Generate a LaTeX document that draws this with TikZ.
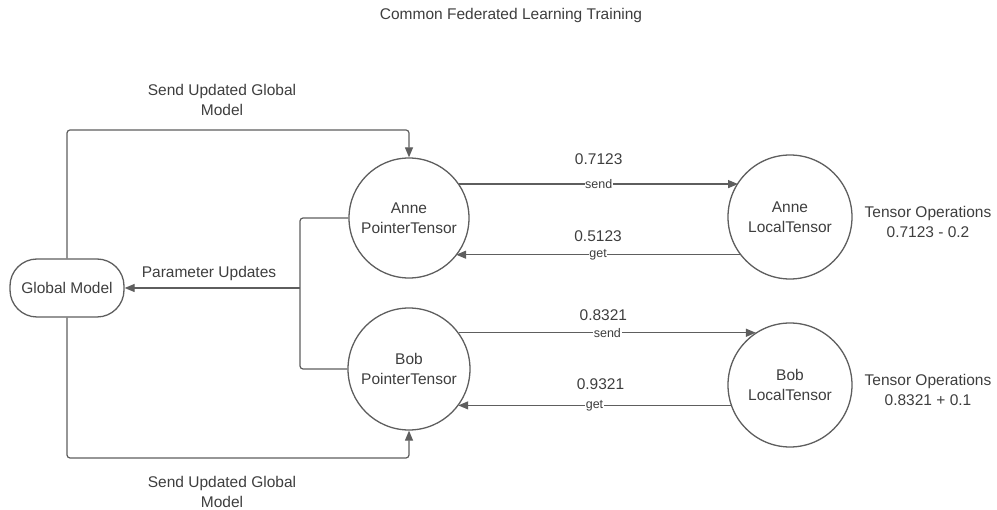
\documentclass[tikz,border=0pt]{standalone}
\usepackage{fontspec}
\setmainfont{Liberation Sans}
\usetikzlibrary{arrows.meta}
\definecolor{linegray}{HTML}{5E5E5E}
\definecolor{textgray}{HTML}{3E3E3E}
\tikzset{
  base/.style={text=textgray, font=\fontsize{15.5}{20}\selectfont},
  small/.style={text=textgray, font=\fontsize{12.5}{14}\selectfont},
  tensor/.style={base, circle, draw=linegray, line width=1.3pt, align=center, inner sep=0pt},
  pill/.style={base, draw=linegray, line width=1.3pt, rounded corners=27pt,
               minimum width=114pt, minimum height=58pt, inner sep=0pt},
  conn/.style={draw=linegray, line width=1.2pt},
  arr/.style={conn, -{Triangle[length=10pt,width=8pt]}},
  onwire/.style={small, fill=white, inner sep=0.6pt},
  lbl/.style={base, align=center}
}
\begin{document}
\begin{tikzpicture}[x=1pt,y=-1pt]
\useasboundingbox (0,0) rectangle (997,510);

% title
\node[base] (title) at (511,15) {Common Federated Learning Training};

% nodes
\node[pill] (gm) at (67,288) {Global Model};
\node[tensor, minimum size=120pt] (annep) at (409,218) {Anne\\PointerTensor};
\node[tensor, minimum size=122pt] (bobp) at (409,369) {Bob\\PointerTensor};
\node[tensor, minimum size=124pt] (annel) at (790,217) {Anne\\LocalTensor};
\node[tensor, minimum size=124pt] (bobl) at (790,385) {Bob\\LocalTensor};

% side notes
\node[lbl] (opsA) at (928,222) {Tensor Operations\\0.7123 - 0.2};
\node[lbl] (opsB) at (928,390) {Tensor Operations\\0.8321 + 0.1};

% global model broadcast
\coordinate (topbend) at (409,130);
\coordinate (botbend) at (409,458);
\draw[arr, rounded corners=3pt] (gm.north) |- (topbend) -- (annep.north);
\draw[arr, rounded corners=3pt] (gm.south) |- (botbend) -- (bobp.south);
\node[lbl] (sendtop) at (222,100) {Send Updated Global\\Model};
\node[lbl] (sendbot) at (222,492) {Send Updated Global\\Model};

% parameter updates
\coordinate (join) at (300,288);
\draw[conn, rounded corners=3pt] (annep.west) -| (join) |- (bobp.west);
\draw[arr] (join) -- (gm.east);
\node[base] (pu) at (209,273) {Parameter Updates};

% Anne send / get (yshift is in canvas pt, so positive moves up)
\draw[arr] (annep.34.5) -- (annep.34.5 -| annel.146.7)
  node[onwire, midway] {send}
  node[base, midway, yshift=25pt] {0.7123};
\draw[arr] (annel.217.8) -- (annel.217.8 -| annep.-39.3)
  node[onwire, midway] {get}
  node[base, midway, yshift=19pt] {0.5123};

% Bob send / get
\draw[arr] (bobp.36.2) -- (bobp.36.2 -| bobl.123)
  node[onwire, midway] {send}
  node[base, midway, yshift=18pt, xshift=-4pt] {0.8321};
\draw[arr] (bobl.199.8) -- (bobl.199.8 -| bobp.-37.3)
  node[onwire, midway] {get}
  node[base, midway, yshift=21pt, xshift=6pt] {0.9321};
\end{tikzpicture}
\end{document}
